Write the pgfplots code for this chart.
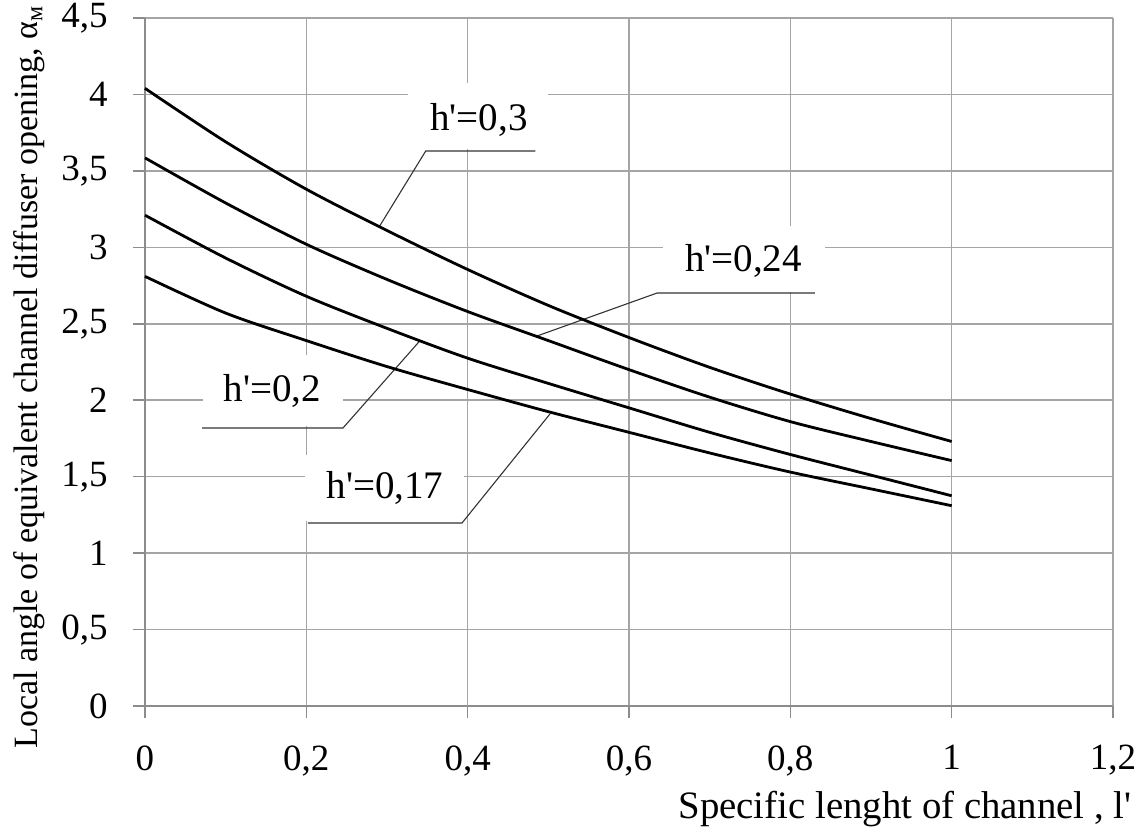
\documentclass[border=0pt]{standalone}
\usepackage{fontspec}
\setmainfont{Liberation Serif}[Ligatures=TeXOff]
\usepackage{pgfplots}
\pgfplotsset{compat=1.18}
\definecolor{gridgray}{RGB}{165,165,165}
\definecolor{axgray}{RGB}{140,140,140}

\pgfplotstableread{
x    a     b     c     d
0    4.04  3.585 3.21  2.81
0.1  3.69  3.29  2.93  2.57
0.2  3.38  3.02  2.68  2.39
0.3  3.11  2.79  2.47  2.22
0.4  2.855 2.58  2.275 2.07
0.5  2.62  2.39  2.11  1.925
0.6  2.41  2.20  1.95  1.79
0.7  2.215 2.02  1.79  1.655
0.8  2.04  1.86  1.645 1.53
0.9  1.88  1.73  1.51  1.42
1.0  1.73  1.605 1.375 1.31
}\curves

\begin{document}
\begin{tikzpicture}
\begin{axis}[
  name=ax,
  scale only axis,
  width=484pt, height=344pt,
  xmin=0, xmax=1.2, ymin=0, ymax=4.5,
  axis lines=left,
  axis line style={-, axgray, line width=1.3pt},
  xtick={0,0.2,0.4,0.6,0.8,1,1.2},
  ytick={0,0.5,1,1.5,2,2.5,3,3.5,4,4.5},
  extra x ticks={0.4},
  extra x tick labels={},
  extra x tick style={grid style={axgray, line width=1.4pt}},
  grid=major,
  major grid style={gridgray, line width=0.75pt},
  tick align=outside,
  major tick length=6pt,
  tick style={axgray, line width=0.75pt},
  /pgf/number format/.cd, use comma, assume math mode=true,
  /pgfplots/.cd,
  xticklabel style={font=\fontsize{18.5}{20}\selectfont, inner sep=0pt, anchor=north},
  yticklabel style={font=\fontsize{18.5}{20}\selectfont, inner sep=0pt, anchor=east},
  xticklabel shift=13.5pt,
  yticklabel shift=12.5pt,
  xlabel={Specific lenght of channel , l'},
  xlabel style={at={(rel axis cs:1.0196,-0.1628)}, anchor=base east, inner sep=0pt, font=\fontsize{19.4}{22}\selectfont},
  ylabel={Local angle of equivalent channel diffuser opening, α\textsubscript{м}},
  ylabel style={at={(rel axis cs:-0.12,0.478)}, anchor=center, rotate=0, inner sep=0pt, font=\fontsize{17}{20}\selectfont},
  clip=false,
]
% white label boxes
\fill[white] (axis cs:0.326,3.645) rectangle (axis cs:0.5,4.075);
\fill[white] (axis cs:0.642,2.71) rectangle (axis cs:0.843,3.139);
\fill[white] (axis cs:0.072,1.83) rectangle (axis cs:0.245,2.296);
\fill[white] (axis cs:0.198,1.207) rectangle (axis cs:0.395,1.64);
% leader lines
\draw[black!80, line width=0.55pt] (axis cs:0.484,3.63) -- (axis cs:0.348,3.63) -- (axis cs:0.291,3.14);
\draw[black!80, line width=0.55pt] (axis cs:0.8305,2.701) -- (axis cs:0.6347,2.701) -- (axis cs:0.486,2.42);
\draw[black!80, line width=0.55pt] (axis cs:0.0707,1.818) -- (axis cs:0.2454,1.818) -- (axis cs:0.341,2.39);
\draw[black!80, line width=0.55pt] (axis cs:0.202,1.197) -- (axis cs:0.393,1.197) -- (axis cs:0.502,1.91);
% curves
\addplot[black, line width=1.4pt, smooth, tension=0.5] table[x=x, y=a] {\curves};
\addplot[black, line width=1.4pt, smooth, tension=0.5] table[x=x, y=b] {\curves};
\addplot[black, line width=1.4pt, smooth, tension=0.5] table[x=x, y=c] {\curves};
\addplot[black, line width=1.4pt, smooth, tension=0.5] table[x=x, y=d] {\curves};
% labels
\node[anchor=base, inner sep=0pt, font=\fontsize{19.5}{22}\selectfont] at (axis cs:0.414,3.767) {h'=0,3};
\node[anchor=base, inner sep=0pt, font=\fontsize{19.5}{22}\selectfont] at (axis cs:0.742,2.840) {h'=0,24};
\node[anchor=base, inner sep=0pt, font=\fontsize{19.5}{22}\selectfont] at (axis cs:0.158,1.990) {h'=0,2};
\node[anchor=base, inner sep=0pt, font=\fontsize{19.5}{22}\selectfont] at (axis cs:0.2975,1.360) {h'=0,17};
\end{axis}
\path ([xshift=-72.5pt,yshift=-60.5pt]ax.south west) rectangle ([xshift=15.5pt,yshift=9pt]ax.north east);
\end{tikzpicture}
\end{document}
